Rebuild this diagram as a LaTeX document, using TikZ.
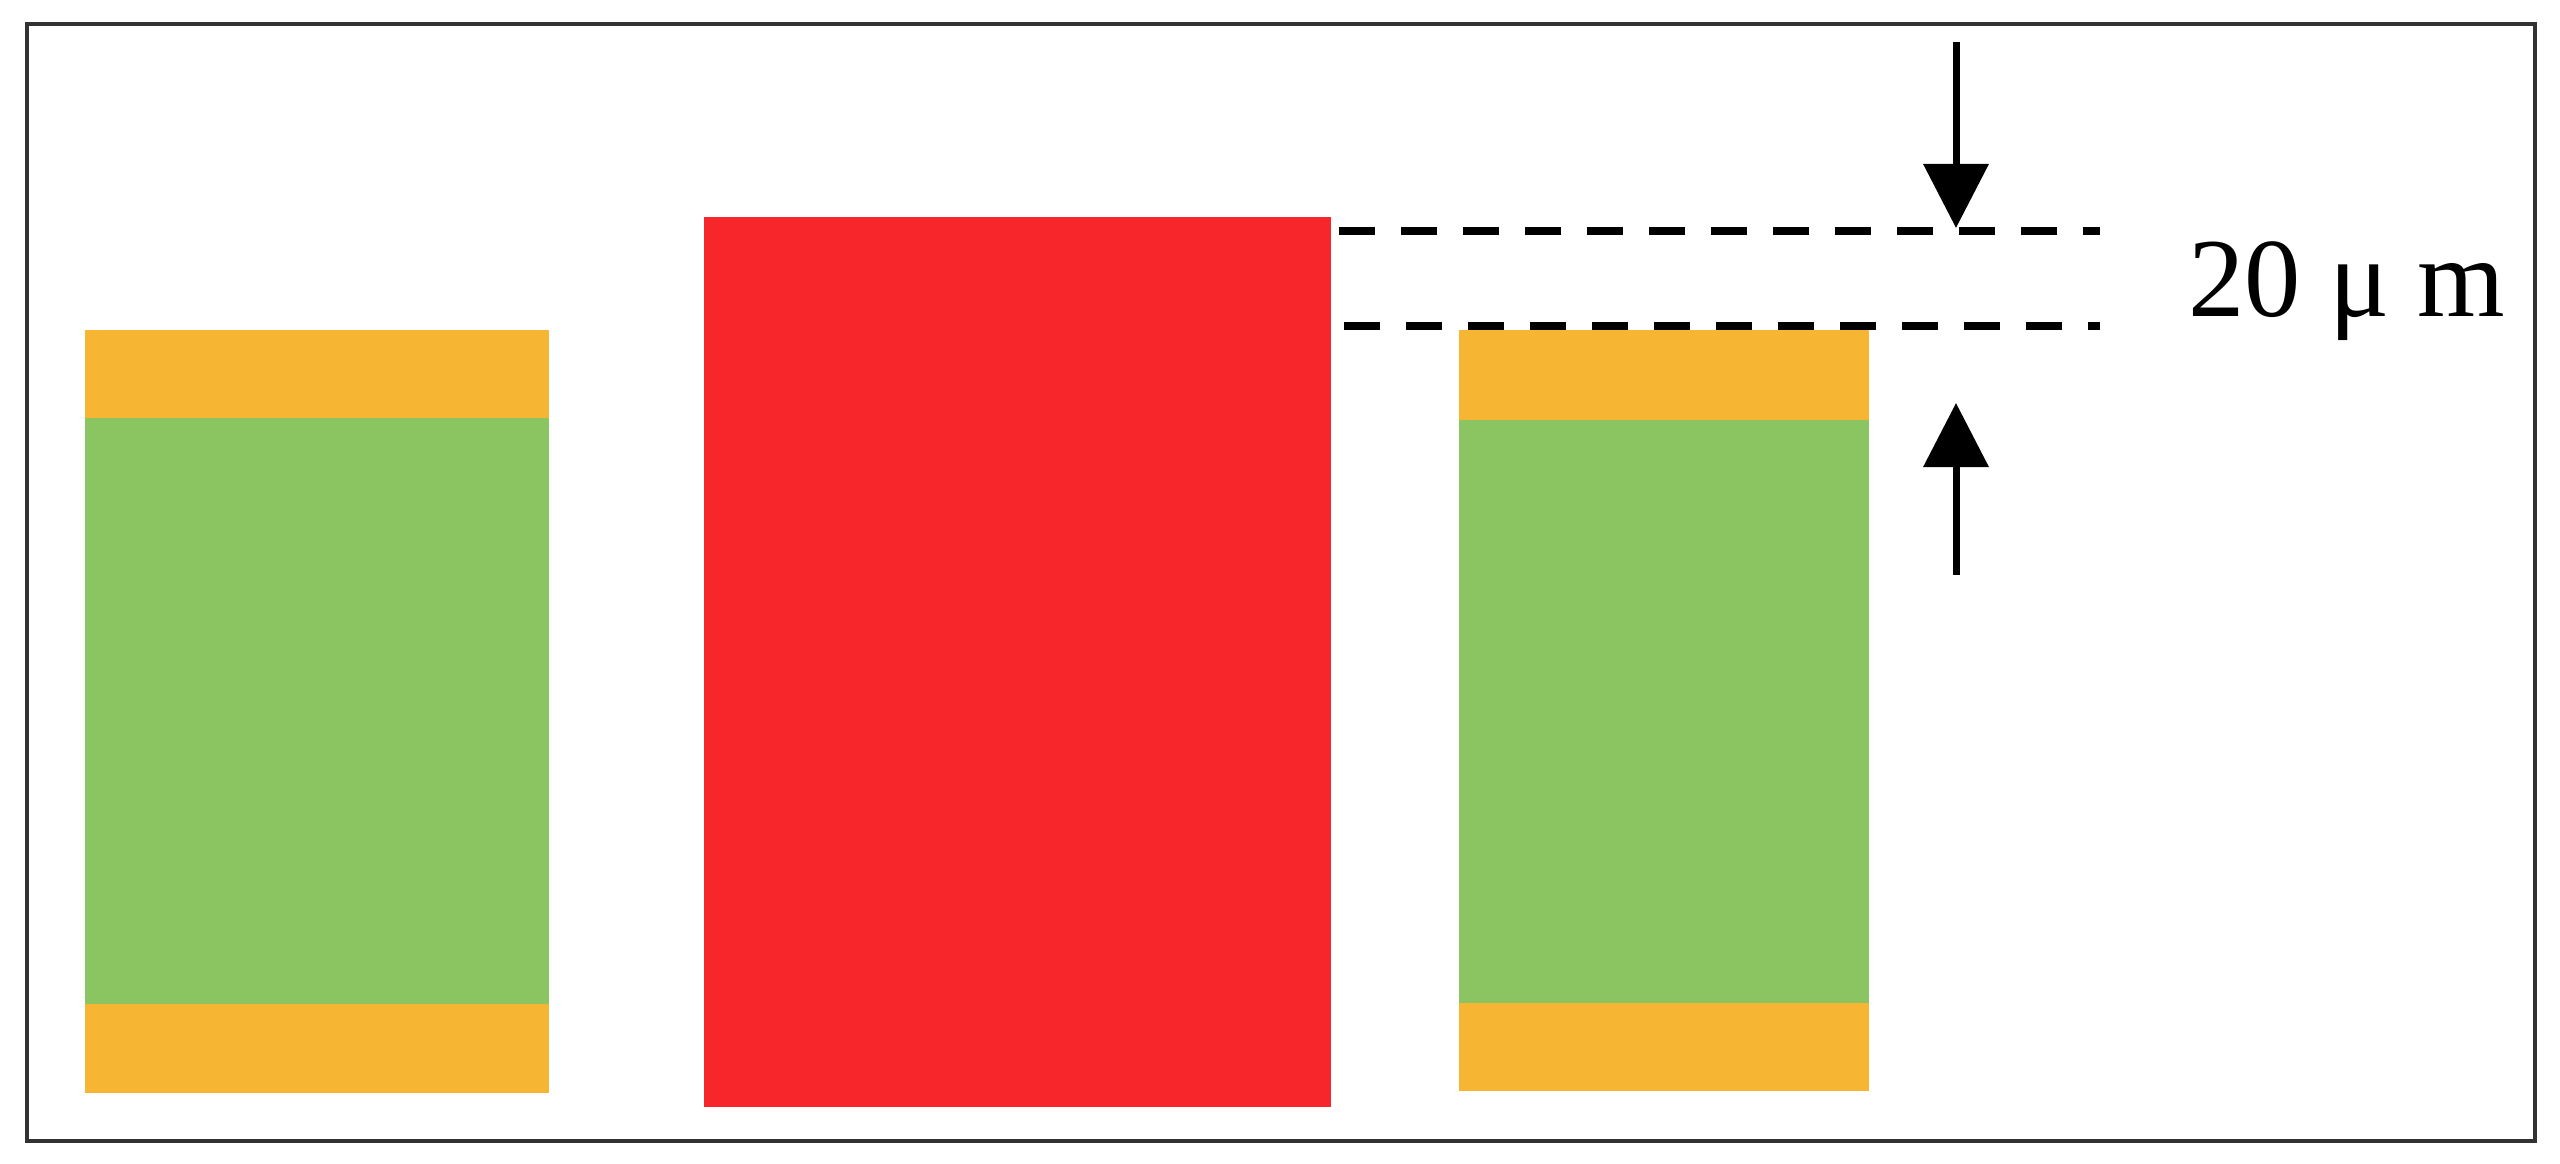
\documentclass[tikz,border=0pt]{standalone}
\usepackage{fontspec}
\setmainfont{Liberation Serif}
\usetikzlibrary{arrows.meta}
\definecolor{capy}{RGB}{246,181,50}
\definecolor{bodyg}{RGB}{139,197,98}
\definecolor{redb}{RGB}{246,38,42}
\definecolor{framec}{RGB}{50,50,50}
\tikzset{
  capbar/.style={fill=capy, draw=none},
  greenbody/.style={fill=bodyg, draw=none},
  redbody/.style={fill=redb, draw=none},
  dashline/.style={line width=0.085cm, dash pattern=on 0.36cm off 0.26cm},
  dimarrow/.style={line width=0.07cm, -{Triangle[length=0.64cm, width=0.64cm]}},
}
\begin{document}
\begin{tikzpicture}[x=0.01cm, y=-0.01cm]
\useasboundingbox (0,0) rectangle (2560,1164);
\fill[white] (0,0) rectangle (2560,1164);
% frame
\draw[framec, line width=0.035cm] (27,24) rectangle (2535,1141);
% left block
\fill[greenbody] (85,418) rectangle (549,1004);
\fill[capbar] (85,330) rectangle (549,418);
\fill[capbar] (85,1004) rectangle (549,1093);
% red block
\fill[redbody] (704,217) rectangle (1331,1107);
% right block
\fill[greenbody] (1459,420) rectangle (1869,1003);
\fill[capbar] (1459,330) rectangle (1869,420);
\fill[capbar] (1459,1003) rectangle (1869,1091);
% dashed lines
\coordinate (d1a) at (1339,231);
\coordinate (d1b) at (2100,231);
\coordinate (d2a) at (1344,326);
\coordinate (d2b) at (2100,326);
\draw[dashline] (d1a) -- (d1b);
\draw[dashline] (d2a) -- (d2b);
% arrows
\coordinate (a1s) at (1956,42);
\coordinate (a1e) at (1956,228);
\coordinate (a2s) at (1956,575);
\coordinate (a2e) at (1956,403);
\draw[dimarrow] (a1s) -- (a1e);
\draw[dimarrow] (a2s) -- (a2e);
% label
\node[anchor=base west, inner sep=0pt, font=\fontsize{32pt}{36pt}\selectfont] (lbl) at (2188,317) {20 μ m};
\end{tikzpicture}
\end{document}
